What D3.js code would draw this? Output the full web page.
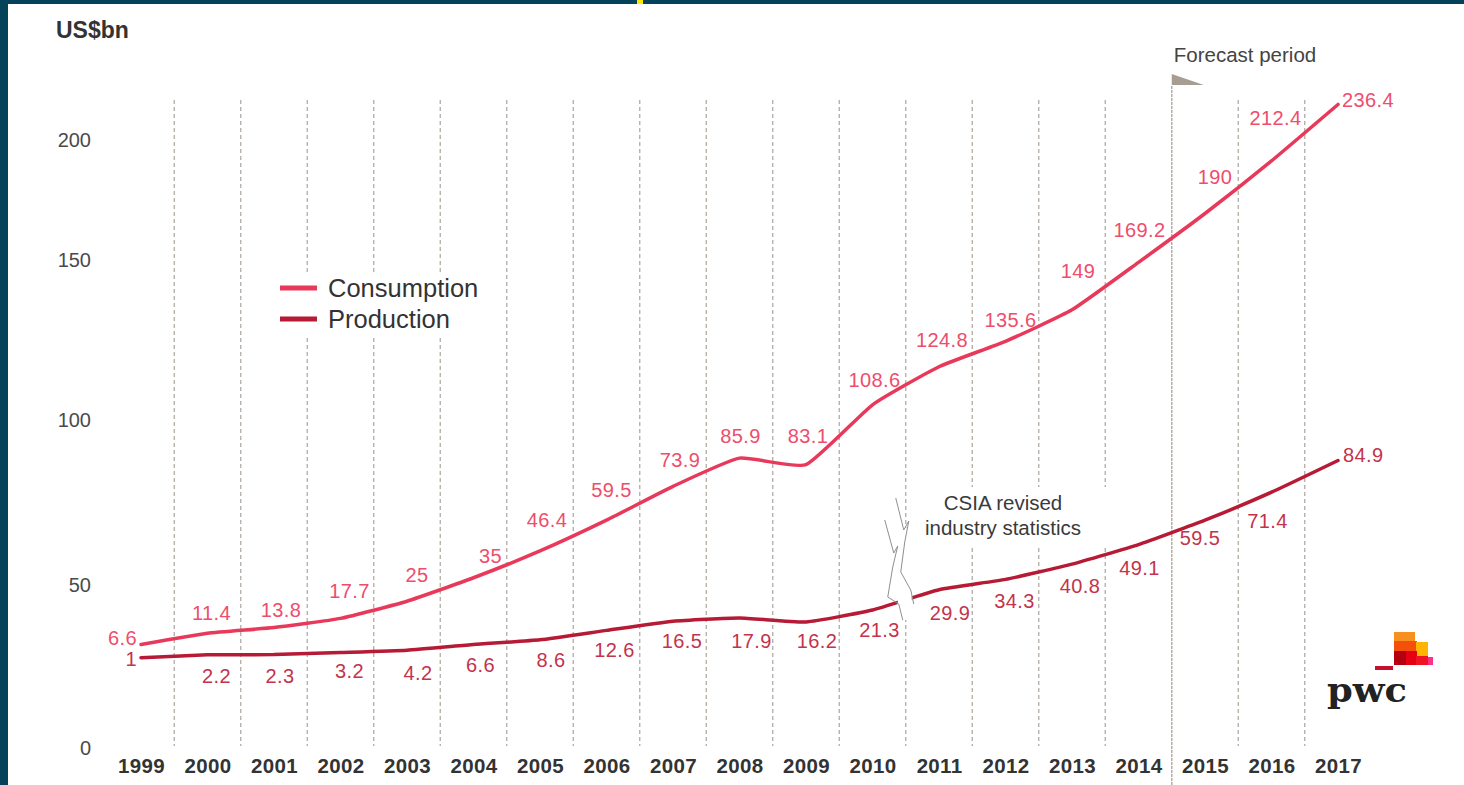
<!DOCTYPE html>
<html>
<head>
<meta charset="utf-8">
<script src="https://cdn.jsdelivr.net/npm/d3@7"></script>
<style>
  body { margin: 0; background: #fff; }
  svg { display: block; font-family: "Liberation Sans", Arial, Helvetica, sans-serif; }
</style>
</head>
<body>
<div id="chart"></div>
<script>
// data
const years = [1999, 2000, 2001, 2002, 2003, 2004, 2005, 2006, 2007, 2008,
               2009, 2010, 2011, 2012, 2013, 2014, 2015, 2016, 2017];
const consumption = [6.6, 11.4, 13.8, 17.7, 25, 35, 46.4, 59.5, 73.9, 85.9,
                     83.1, 108.6, 124.8, 135.6, 149, 169.2, 190, 212.4, 236.4];
const production = [1, 2.2, 2.3, 3.2, 4.2, 6.6, 8.6, 12.6, 16.5, 17.9,
                    16.2, 21.3, 29.9, 34.3, 40.8, 49.1, 59.5, 71.4, 84.9];
const yTicks = [0, 50, 100, 150, 200];
const forecastFrom = 2014.5;
const revisionAt = 2010.5;

// label nudges (layout only)
const consDx = [-4, 4, 7, 9, 10, 17, 7, 5, 7, 1, 2, 2, 3, 5, 6, 1, 10, 4, 4];
const consDy = [1, -13, -11, -20, -19, -15, -24, -23, -19, -15, -22, -18, -20, -14, -32, -25, -30, -36, 3];
const prodDx = [-4, 9, 6, 9, 11, 7, 11, 8, 9, 12, 11, 7, 11, 9, 8, 1, -5, -4, 5];
const prodDy = [8, 28, 28, 26, 30, 28, 27, 27, 27, 30, 26, 27, 30, 29, 29, 30, 25, 36, 2];

const WIDTH = 1464, HEIGHT = 785;
const CONS = "#e8395b", PROD = "#b71a34";
const CONS_TXT = "#ee4d6c", PROD_TXT = "#c3334c";
const GRID = "#b3aba4";

const svg = d3.select("#chart").append("svg")
    .attr("width", WIDTH)
    .attr("height", HEIGHT);

svg.append("rect").attr("width", WIDTH).attr("height", HEIGHT).attr("fill", "#fff");

// frame
svg.append("rect").attr("x", 0).attr("y", 0).attr("width", 8).attr("height", HEIGHT).attr("fill", "#03425a");
svg.append("rect").attr("x", 0).attr("y", 0).attr("width", WIDTH).attr("height", 4).attr("fill", "#03425a");
svg.append("rect").attr("x", 637).attr("y", 0).attr("width", 6).attr("height", 4).attr("fill", "#ffe500");

// scales
const x = d3.scaleLinear().domain([1999, 2017]).range([141, 1338]);
const y = d3.scaleLinear().domain([0, 250]).range([660, 72.5]);
// the printed axis is not spaced evenly in the original
const yAxisScale = d3.scaleLinear().domain(yTicks).range([748, 585, 420, 260, 140]);

// vertical separators between years
const seps = years.slice(0, -1).map(d => d + 0.5).filter(d => d !== forecastFrom);
svg.append("g").selectAll("line")
    .data(seps)
    .enter()
    .append("line")
    .attr("x1", d => x(d)).attr("x2", d => x(d))
    .attr("y1", 100).attr("y2", 746)
    .attr("stroke", GRID)
    .attr("stroke-width", 1.3)
    .attr("stroke-dasharray", "4,3");

// forecast marker
svg.append("line")
    .attr("x1", x(forecastFrom)).attr("x2", x(forecastFrom))
    .attr("y1", 86).attr("y2", HEIGHT)
    .attr("stroke", GRID)
    .attr("stroke-width", 1.5)
    .attr("stroke-dasharray", "3,1");

const fx = x(forecastFrom);
svg.append("path")
    .attr("d", `M${fx},74 L${fx + 32},85 L${fx},85 Z`)
    .attr("fill", "#a79d93");

svg.append("text")
    .attr("x", fx + 2)
    .attr("y", 62)
    .attr("font-size", 20.5)
    .attr("fill", "#444")
    .text("Forecast period");

// white boxes behind legend and note
svg.append("rect").attr("x", 270).attr("y", 272).attr("width", 225).attr("height", 66).attr("fill", "#fff");
svg.append("rect").attr("x", 915).attr("y", 487).attr("width", 195).attr("height", 58).attr("fill", "#fff");

// lines
const line = d3.line()
    .x((d, i) => x(years[i]))
    .y(d => y(d))
    .curve(d3.curveCardinal.tension(0.55));

svg.append("path")
    .datum(consumption)
    .attr("fill", "none")
    .attr("stroke", CONS)
    .attr("stroke-width", 3.5)
    .attr("stroke-linecap", "round")
    .attr("d", line);

svg.append("path")
    .datum(production)
    .attr("fill", "none")
    .attr("stroke", PROD)
    .attr("stroke-width", 3.5)
    .attr("stroke-linecap", "round")
    .attr("d", line);

// break mark for revised statistics
const bx = x(revisionAt);
svg.append("rect")
    .attr("x", bx - 8).attr("y", 528)
    .attr("width", 14).attr("height", 92)
    .attr("fill", "#fff");

const bolts = [
    [[-10, 498], [-2, 530], [3, 521], [-1, 542], [-5, 572], [5, 590], [8, 604]],
    [[-21, 520], [-12, 553], [-8, 546], [-13, 567], [-18, 597], [-7, 604], [-3, 620]]
];
svg.append("g").selectAll("path")
    .data(bolts)
    .enter()
    .append("path")
    .attr("d", d => d3.line()(d.map(p => [bx + p[0], p[1]])))
    .attr("fill", "none")
    .attr("stroke", "#8f8f8f")
    .attr("stroke-width", 1);

// value labels
function addLabels(values, dx, dy, color) {
    svg.append("g").selectAll("text")
        .data(values)
        .enter()
        .append("text")
        .attr("x", (d, i) => x(years[i]) + dx[i])
        .attr("y", (d, i) => y(d) + dy[i])
        .attr("text-anchor", (d, i) => i === 0 ? "end" : (i === values.length - 1 ? "start" : "middle"))
        .attr("font-size", 20)
        .attr("letter-spacing", 0.4)
        .attr("fill", color)
        .text(d => d);
}
addLabels(consumption, consDx, consDy, CONS_TXT);
addLabels(production, prodDx, prodDy, PROD_TXT);

// note
const note = svg.append("text")
    .attr("text-anchor", "middle")
    .attr("font-size", 20.5)
    .attr("fill", "#3a3a3a");
note.append("tspan").attr("x", 1003).attr("y", 510).text("CSIA revised");
note.append("tspan").attr("x", 1003).attr("y", 535).text("industry statistics");

// axes
const yAxis = svg.append("g")
    .attr("transform", "translate(91,0)")
    .call(d3.axisLeft(yAxisScale).tickValues(yTicks).tickSize(0).tickPadding(0));
yAxis.select(".domain").remove();
yAxis.selectAll("text")
    .attr("font-family", "Liberation Sans, Arial, sans-serif")
    .attr("font-size", 20)
    .attr("fill", "#4a4a4a");

const xAxis = svg.append("g")
    .attr("transform", "translate(0,758)")
    .call(d3.axisBottom(x).tickValues(years).tickFormat(d3.format("d")).tickSize(0).tickPadding(0));
xAxis.select(".domain").remove();
xAxis.selectAll("text")
    .attr("font-family", "Liberation Sans, Arial, sans-serif")
    .attr("font-size", 20.5)
    .attr("font-weight", "bold")
    .attr("letter-spacing", 0.3)
    .attr("fill", "#333");

svg.append("text")
    .attr("x", 56)
    .attr("y", 38)
    .attr("font-size", 23)
    .attr("font-weight", "bold")
    .attr("fill", "#333")
    .text("US$bn");

// legend
const legend = [
    { name: "Consumption", color: CONS },
    { name: "Production", color: PROD }
];
const lg = svg.append("g").selectAll("g")
    .data(legend)
    .enter()
    .append("g")
    .attr("transform", (d, i) => `translate(280,${288 + i * 31})`);
lg.append("line")
    .attr("x1", 0).attr("x2", 37)
    .attr("stroke", d => d.color)
    .attr("stroke-width", 5);
lg.append("text")
    .attr("x", 48)
    .attr("y", 9)
    .attr("font-size", 25.5)
    .attr("fill", "#333")
    .text(d => d.name);

// pwc logo
const logo = svg.append("g");
const blocks = [
    [1394, 632, 21, 10, "#f7901e"],
    [1394, 641, 23, 10, "#f4500c"],
    [1416, 642, 12, 14, "#ffb400"],
    [1394, 651, 12, 14, "#b5000f"],
    [1406, 651, 11, 14, "#e50012"],
    [1416, 656, 12, 9, "#ef1424"],
    [1428, 657, 5, 8, "#ff2f8c"],
    [1375, 666, 18, 4, "#c8102e"]
];
logo.selectAll("rect")
    .data(blocks)
    .enter()
    .append("rect")
    .attr("x", d => d[0]).attr("y", d => d[1])
    .attr("width", d => d[2]).attr("height", d => d[3])
    .attr("fill", d => d[4]);
logo.append("text")
    .attr("x", 1327)
    .attr("y", 702)
    .attr("font-family", "DejaVu Serif, Georgia, serif")
    .attr("font-weight", "bold")
    .attr("font-size", 34)
    .attr("textLength", 80)
    .attr("lengthAdjust", "spacingAndGlyphs")
    .attr("fill", "#222")
    .text("pwc");
</script>
</body>
</html>
